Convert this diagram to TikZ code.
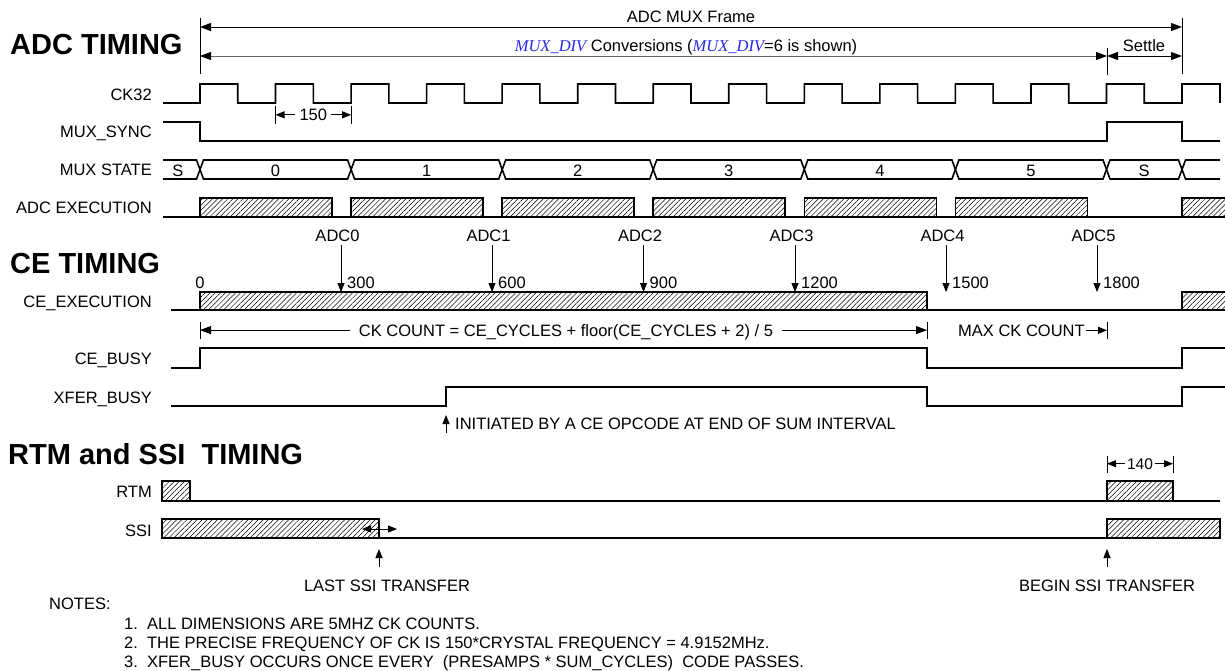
\documentclass[tikz,border=0pt]{standalone}
\usepackage{fontspec}
\setmainfont{Liberation Sans}
\newfontfamily\muxfont{Liberation Serif}
\usetikzlibrary{arrows.meta,patterns.meta}
\definecolor{muxblue}{RGB}{40,40,235}
\newcommand{\muxdiv}{{\muxfont\itshape\color{muxblue}MUX\_DIV}}
\newcommand{\ckper}{75.54}
\begin{document}
\begin{tikzpicture}[x=1pt,y=-1pt,
  sig/.style={line width=1.6pt},
  dimline/.style={line width=0.8pt},
  hpat/.style={pattern={Lines[angle=45,distance=3.6pt,line width=0.5pt]}},
  hatchbox/.style={sig,hpat},
  txt/.style={inner sep=0pt,font=\fontsize{16.5}{19}\selectfont},
  lbl/.style={txt,anchor=base east},
  ctr/.style={txt,anchor=base},
  lft/.style={txt,anchor=base west},
  ttl/.style={inner sep=0pt,anchor=base west,font=\fontsize{29}{34}\selectfont\bfseries},
  bigarr/.style={dimline,arrows={Triangle[length=11pt,width=8pt,color=black]-Triangle[length=11pt,width=8pt,color=black]}},
  midarr/.style={dimline,arrows={-Triangle[length=9pt,width=7pt]}},
  smallarr/.style={dimline,arrows={-Triangle[length=9pt,width=7pt]}},
  dblarr/.style={dimline,arrows={Triangle[length=9pt,width=7pt]-Triangle[length=9pt,width=7pt]}}
]
\useasboundingbox (0,0) rectangle (1225,671);

% ---------------- ADC TIMING ----------------
\node[ttl] (t1) at (10,54.5) {ADC TIMING};

% frame dimensions
\draw[dimline] (200,18) -- (200,74);
\draw[dimline] (1182,18) -- (1182,74);
\draw[dimline] (1107,48) -- (1107,75);
\draw[bigarr] (200,27) -- (1182,27);
\node[ctr] (frame) at (691,23) {ADC MUX Frame};
\draw[bigarr,draw=black!60] (200,56) -- (1107,56);
\node[ctr] (conv) at (686,52) {\muxdiv{} Conversions (\muxdiv=6 is shown)};
\draw[bigarr] (1107,56) -- (1182,56);
\node[ctr] (settle) at (1144,52) {Settle};

% labels
\node[lbl] (lck) at (152,100.5) {CK32};
\node[lbl] (lms) at (152,137.5) {MUX\_SYNC};
\node[lbl] (lst) at (152,175.5) {MUX STATE};
\node[lbl] (lae) at (152,213) {ADC EXECUTION};

% CK32
\draw[sig] (163,103) -- (200,103)
  \foreach \k in {0,...,12}{ -- ({200+\k*\ckper},84) -- ({200+(\k+0.5)*\ckper},84)
     -- ({200+(\k+0.5)*\ckper},103) -- ({200+(\k+1)*\ckper},103) }
  -- (1182,84) -- (1220,84) -- (1220,103);

% 150 dimension
\coordinate (k150a) at (275.5,114);
\coordinate (k150b) at (351.1,114);
\draw[dimline] (275.5,106) -- (275.5,124);
\draw[dimline] (351.1,106) -- (351.1,124);
\node[ctr] (d150) at (313.3,120.5) {150};
\draw[smallarr] ([xshift=-4pt]d150.west) -- (d150.west -| k150a);
\draw[smallarr] ([xshift=4pt]d150.east) -- (d150.east -| k150b);

% MUX_SYNC
\draw[sig] (163,122) -- (200,122) -- (200,141) -- (1107,141) -- (1107,122)
  -- (1182,122) -- (1182,141) -- (1220,141);

% MUX STATE
\draw[sig] (163,160) -- (196.5,160) -- (203.5,179) -- (347.6,179) -- (354.6,160)
  -- (498.7,160) -- (505.7,179) -- (649.7,179) -- (656.7,160) -- (800.8,160)
  -- (807.8,179) -- (951.9,179) -- (958.9,160) -- (1103,160) -- (1110,179)
  -- (1178.5,179) -- (1185.5,160) -- (1220,160);
\draw[sig] (163,179) -- (196.5,179) -- (203.5,160) -- (347.6,160) -- (354.6,179)
  -- (498.7,179) -- (505.7,160) -- (649.7,160) -- (656.7,179) -- (800.8,179)
  -- (807.8,160) -- (951.9,160) -- (958.9,179) -- (1103,179) -- (1110,160)
  -- (1178.5,160) -- (1185.5,179) -- (1220,179);
\node[ctr] (sS0) at (178,176) {S};
\node[ctr] (s0) at (275.5,176) {0};
\node[ctr] (s1) at (426.6,176) {1};
\node[ctr] (s2) at (577.7,176) {2};
\node[ctr] (s3) at (728.8,176) {3};
\node[ctr] (s4) at (879.9,176) {4};
\node[ctr] (s5) at (1031,176) {5};
\node[ctr] (sS1) at (1144,176) {S};

% ADC EXECUTION
\draw[sig] (163,217) -- (1225,217);
\foreach \s in {200,351.08,502.16,653.24,804.32,955.4}
  \draw[hatchbox] (\s,198) rectangle ({\s+132},217);
\fill[hpat] (1182,198) rectangle (1226,217);
\draw[sig] (1182,217) -- (1182,198) -- (1226,198);

% ---------------- CE TIMING ----------------
\node[ttl] (t2) at (10,273.5) {CE TIMING};
\node[lbl] (lce) at (152,307) {CE\_EXECUTION};
\node[lbl] (lcb) at (152,364) {CE\_BUSY};
\node[lbl] (lxb) at (152,403) {XFER\_BUSY};

\node[ctr] (c0) at (200,288) {0};
\foreach \i/\x/\v in {0/341/300,1/492/600,2/643.5/900,3/795/1200,4/946/1500,5/1097/1800}{
  \node[ctr] (adc\i) at ({\x-3.5},241.5) {ADC\i};
  \node[lft] (cnt\i) at ({\x+6},288) {\v};
  \coordinate (tip\i) at (\x,292);
  \draw[midarr] (\x,245) -- (tip\i);
}

% CE_EXECUTION
\draw[sig] (171,310) -- (1225,310);
\draw[hatchbox] (200,292) rectangle (927,310);
\fill[hpat] (1182,292) rectangle (1226,310);
\draw[sig] (1182,310) -- (1182,292) -- (1226,292);

% CK COUNT
\coordinate (kmax) at (1107,330);
\draw[dimline] (200,322) -- (200,339);
\draw[dimline] (927,322) -- (927,339);
\draw[dimline] (1107,322) -- (1107,339);
\draw[bigarr] (200,330.1) -- (927,330.1);
\node[ctr,fill=white,inner xsep=9pt,inner ysep=3pt] (ckc) at (566,336) {CK COUNT = CE\_CYCLES + floor(CE\_CYCLES + 2) / 5};
\node[lft] (maxck) at (958,336) {MAX CK COUNT};
\draw[smallarr] ([xshift=1pt]maxck.east) -- (maxck.east -| kmax);

% CE_BUSY
\draw[sig] (171,368) -- (200,368) -- (200,348) -- (927,348) -- (927,368)
  -- (1182,368) -- (1182,348) -- (1225,348);
% XFER_BUSY
\draw[sig] (171,406) -- (446,406) -- (446,387) -- (927,387) -- (927,406)
  -- (1182,406) -- (1182,387) -- (1225,387);
\coordinate (initbase) at (446,433);
\draw[smallarr] (initbase) -- (446,415);
\node[lft] (init) at (455,429.5) {INITIATED BY A CE OPCODE AT END OF SUM INTERVAL};

% ---------------- RTM and SSI TIMING ----------------
\node[ttl] (t3) at (8,464.5) {RTM and SSI\ \ TIMING};
\node[lbl] (lrtm) at (152,497) {RTM};
\node[lbl] (lssi) at (152,536) {SSI};

% RTM
\draw[sig] (190,501) -- (1107,501);
\draw[hatchbox] (162,481) rectangle (190,501);
\draw[sig] (1173,501) -- (1220,501);
\draw[hatchbox] (1107,481) rectangle (1173,501);
% 140 dimension
\coordinate (k140a) at (1107,464);
\coordinate (k140b) at (1173,464);
\draw[dimline] (1107,456) -- (1107,473);
\draw[dimline] (1173,456) -- (1173,473);
\node[ctr,font=\fontsize{15.5}{18}\selectfont] (d140) at (1140,469) {140};
\draw[smallarr] ([xshift=-2pt]d140.west) -- (d140.west -| k140a);
\draw[smallarr] ([xshift=2pt]d140.east) -- (d140.east -| k140b);

% SSI
\draw[sig] (379,538) -- (1107,538);
\draw[hatchbox] (162,519) rectangle (379,538);
\draw[hatchbox] (1107,519) rectangle (1220,538);
\draw[dblarr] (362,529) -- (397,529);
\coordinate (lastb) at (379,567);
\draw[smallarr] (lastb) -- (379,549);
\node[ctr] (last) at (387,591) {LAST SSI TRANSFER};
\coordinate (beginb) at (1107,567);
\draw[smallarr] (beginb) -- (1107,549);
\node[ctr] (begin) at (1107,591) {BEGIN SSI TRANSFER};

% NOTES
\node[lft] (notes) at (49,609) {NOTES:};
\node[lft] (n1) at (124,629) {1.\ \ ALL DIMENSIONS ARE 5MHZ CK COUNTS.};
\node[lft] (n2) at (124,648) {2.\ \ THE PRECISE FREQUENCY OF CK IS 150*CRYSTAL FREQUENCY = 4.9152MHz.};
\node[lft] (n3) at (124,667.5) {3.\ \ XFER\_BUSY OCCURS ONCE EVERY\ \ (PRESAMPS * SUM\_CYCLES)\ \ CODE PASSES.};
\end{tikzpicture}
\end{document}
